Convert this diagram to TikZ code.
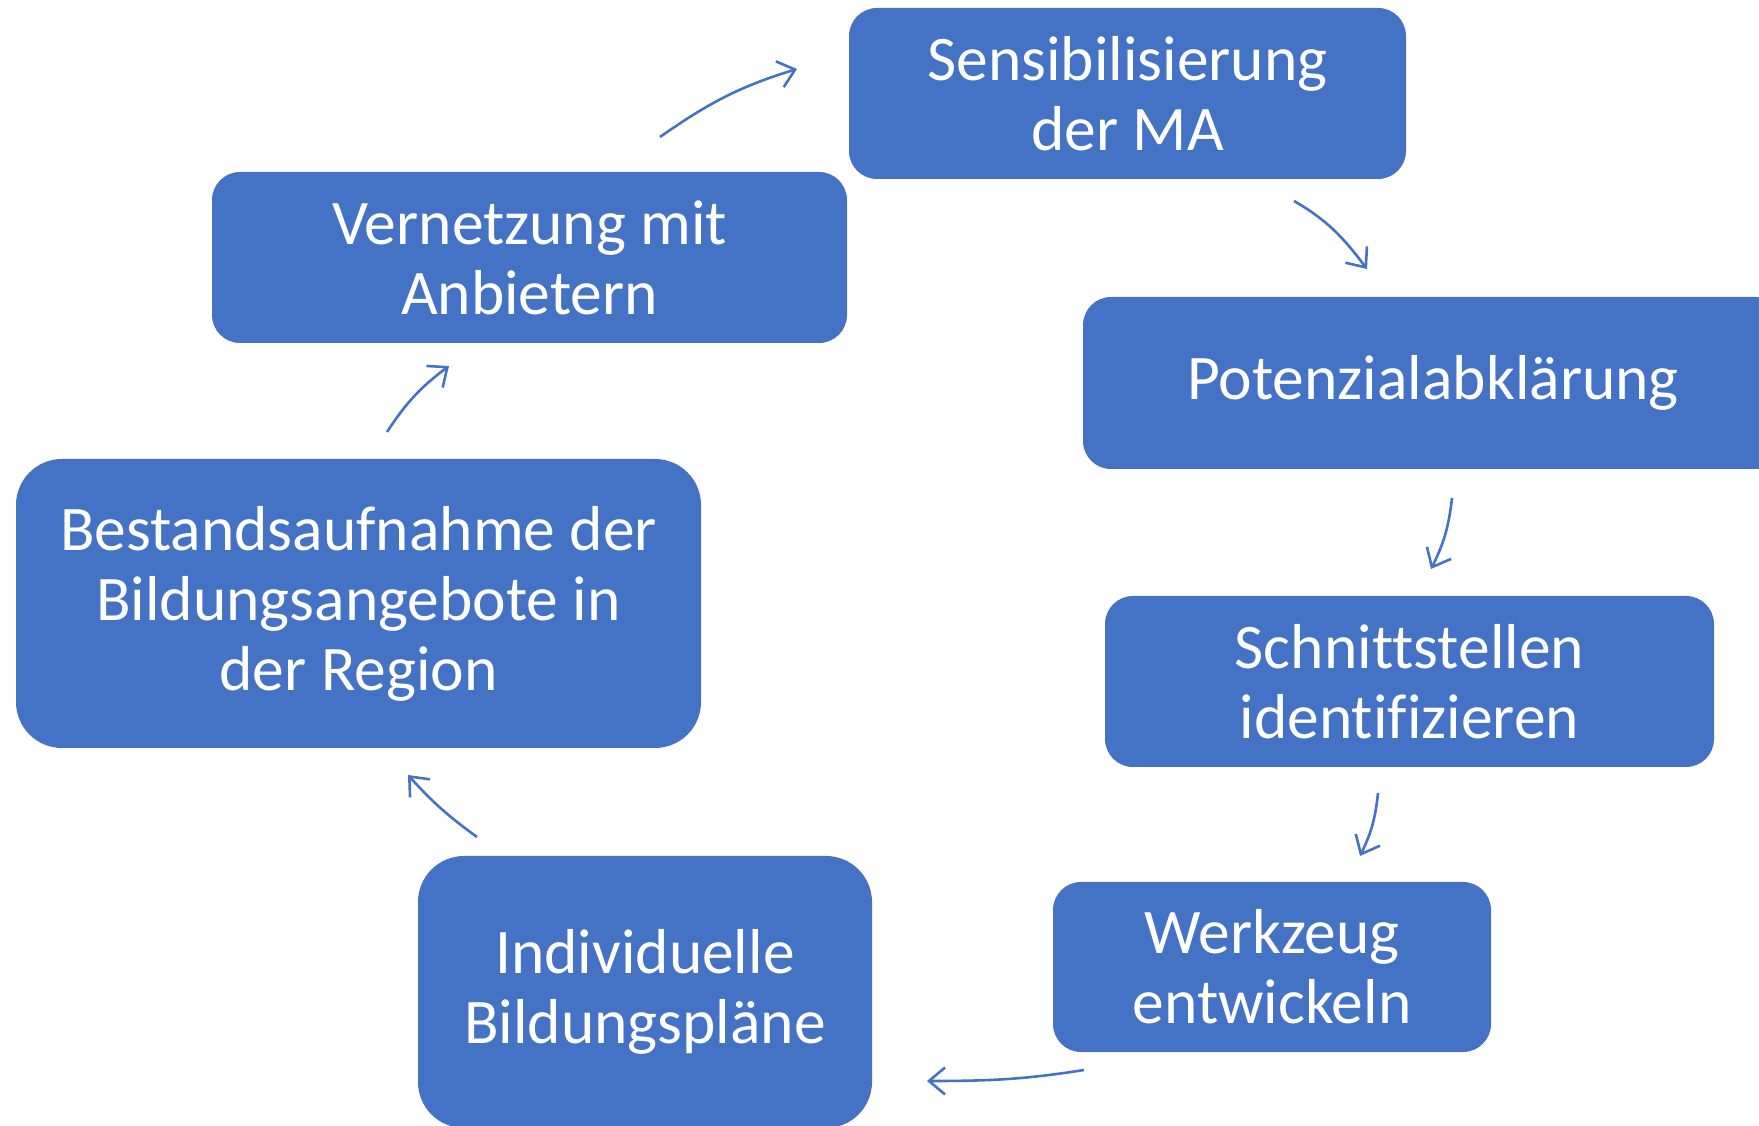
\documentclass[tikz,border=0pt]{standalone}
\usepackage{fontspec}
\setmainfont{Carlito}[Ligatures={NoCommon}]
\usepackage{tikz}
\usetikzlibrary{arrows.meta}
\definecolor{officeblue}{HTML}{4472C4}
\tikzset{
  stage/.style={draw=none, fill=officeblue, text=white, rounded corners=28pt,
    inner sep=0pt, align=center, font=\fontsize{63.5}{70}\selectfont},
  bigstage/.style={stage, rounded corners=46pt},
  cycleedge/.style={draw=officeblue, line width=2.6pt,
    -{Straight Barb[length=16pt,width=27pt]}},
}

\begin{document}
\begin{tikzpicture}[x=1pt,y=1pt]
  \path[use as bounding box, clip] (0,0) rectangle (1759,1125);

  \node (sens) at (1127.5,1031.5) [stage, minimum width=557pt, minimum height=171pt] {Sensibilisierung\\der MA};
  \node (pot) at (1433,742) [stage, minimum width=700pt, minimum height=172pt] {Potenzialabklärung};
  \node (schn) at (1409.5,443.5) [stage, minimum width=609pt, minimum height=171pt] {Schnittstellen\\identifizieren};
  \node (werk) at (1272,158) [stage, minimum width=438pt, minimum height=170pt] {Werkzeug\\entwickeln};
  \node (indiv) at (645,133) [bigstage, minimum width=454pt, minimum height=272pt] {Individuelle\\Bildungspläne};
  \node (best) at (358.5,521.5) [bigstage, minimum width=685pt, minimum height=289pt] {Bestandsaufnahme der\\Bildungsangebote in\\der Region};
  \node (vern) at (529.5,867.5) [stage, minimum width=635pt, minimum height=171pt] {Vernetzung mit\\Anbietern};

  % arrow ends, between the boxes
  \coordinate (vern-out) at (660,988);   \coordinate (sens-in) at (797,1056);
  \coordinate (sens-out) at (1294,924);  \coordinate (pot-in) at (1367,856);
  \coordinate (pot-out) at (1452,627);   \coordinate (schn-in) at (1431,556);
  \coordinate (schn-out) at (1378,332);  \coordinate (werk-in) at (1360,269);
  \coordinate (werk-out) at (1084,55);   \coordinate (indiv-in) at (927,44);
  \coordinate (indiv-out) at (477,288);  \coordinate (best-in) at (408,350);
  \coordinate (best-out) at (387,693);   \coordinate (vern-in) at (449,759);

  \draw [cycleedge] (vern-out) to[out=35,in=197] (sens-in);
  \draw [cycleedge] (sens-out) to[out=-30,in=127] (pot-in);
  \draw [cycleedge] (pot-out) to[bend left=10] (schn-in);
  \draw [cycleedge] (schn-out) to[bend left=10] (werk-in);
  \draw [cycleedge] (werk-out) to[out=189,in=0] (indiv-in);
  \draw [cycleedge] (indiv-out) to[bend left=6] (best-in);
  \draw [cycleedge] (best-out) to[bend left=10] (vern-in);
\end{tikzpicture}
\end{document}
